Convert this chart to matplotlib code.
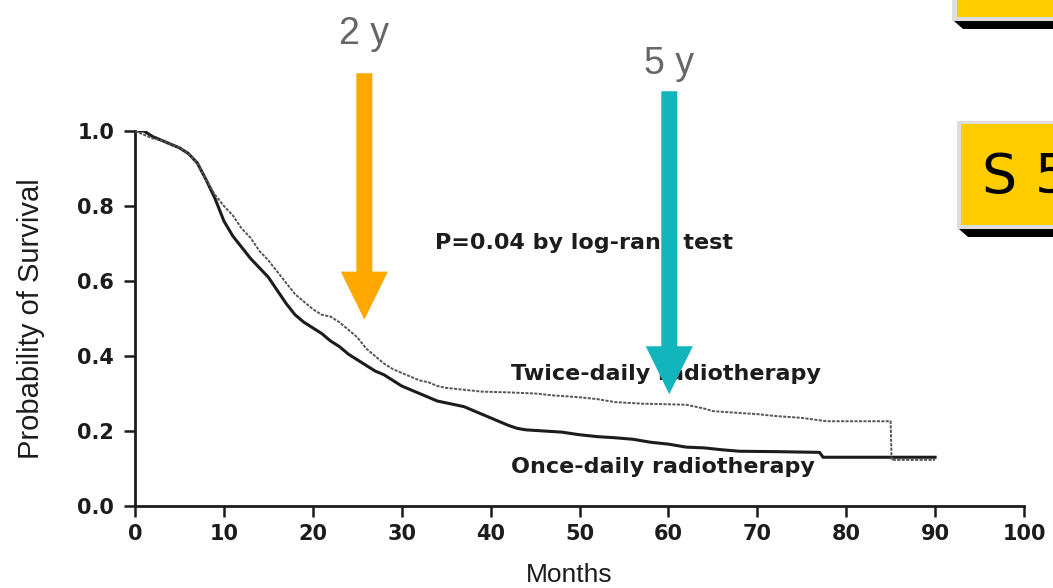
import numpy as np
import matplotlib.pyplot as plt
from matplotlib.patches import FancyArrow, Rectangle, Polygon

# Kaplan-Meier estimates read per month (months, probability of survival)
once_months = [0, 1, 2, 3, 4, 5, 6, 7, 8, 9, 10, 11, 12, 13, 14, 15, 16, 17, 18, 19,
               20, 21, 22, 23, 24, 25, 26, 27, 28, 29, 30, 31, 32, 33, 34, 35, 36, 37,
               38, 39, 40, 41, 42, 43, 44, 46, 48, 50, 52, 54, 56, 58, 60, 62, 64, 66,
               68, 72, 77, 77.4, 90]
once_surv = [1.0, 1.0, 0.985, 0.975, 0.965, 0.955, 0.94, 0.915, 0.87, 0.82, 0.76, 0.72,
             0.69, 0.66, 0.635, 0.61, 0.575, 0.54, 0.51, 0.49, 0.475, 0.46, 0.44, 0.425,
             0.405, 0.39, 0.375, 0.36, 0.35, 0.335, 0.32, 0.31, 0.30, 0.29, 0.28, 0.275,
             0.27, 0.265, 0.255, 0.245, 0.235, 0.225, 0.215, 0.207, 0.203, 0.2, 0.197,
             0.19, 0.185, 0.182, 0.178, 0.17, 0.165, 0.157, 0.155, 0.15, 0.146, 0.145,
             0.143, 0.13, 0.13]

twice_months = [0, 1, 2, 3, 4, 5, 6, 7, 8, 9, 10, 11, 12, 13, 14, 15, 16, 17, 18, 19,
                20, 21, 22, 23, 24, 25, 26, 27, 28, 29, 30, 31, 32, 33, 34, 35, 37, 39,
                42, 45, 47, 50, 52, 54, 57, 62, 64, 65, 68, 70, 72, 75, 77.8, 85, 85.1, 90]
twice_surv = [1.0, 0.99, 0.98, 0.975, 0.965, 0.955, 0.94, 0.915, 0.87, 0.83, 0.80, 0.775,
              0.74, 0.715, 0.68, 0.655, 0.625, 0.595, 0.565, 0.545, 0.525, 0.51, 0.505,
              0.49, 0.47, 0.45, 0.42, 0.40, 0.38, 0.365, 0.355, 0.345, 0.335, 0.33, 0.32,
              0.315, 0.31, 0.305, 0.303, 0.30, 0.295, 0.29, 0.285, 0.277, 0.273, 0.27,
              0.26, 0.253, 0.248, 0.245, 0.24, 0.235, 0.226, 0.226, 0.123, 0.123]

x_ticks = [0, 10, 20, 30, 40, 50, 60, 70, 80, 90, 100]
y_ticks = [0.0, 0.2, 0.4, 0.6, 0.8, 1.0]

# time points highlighted with arrows: (label, month, arrow tip, arrow top, label y, colour)
marks = [("2 y", 25.8, 0.497, 1.154, 1.26, "#FFA800"),
         ("5 y", 60.1, 0.298, 1.106, 1.178, "#12B5BB")]

W, H = 1053, 588
fig = plt.figure(figsize=(W / 100, H / 100), dpi=100)
ax = fig.add_axes([135 / W, 1 - 506 / H, (1024 - 135) / W, (506 - 131) / H])

ink = "#1c1c1c"
ax.plot(once_months, once_surv, color=ink, lw=2.2, zorder=3)
ax.plot(twice_months, twice_surv, color="#555555", lw=1.4,
        linestyle=(0, (1.6, 0.7)), zorder=3)

ax.set_xlim(0, 100)
ax.set_ylim(0, 1.0)
ax.set_xticks(x_ticks)
ax.set_yticks(y_ticks)
ax.set_yticklabels([f"{v:.1f}" for v in y_ticks])
for s in ["top", "right"]:
    ax.spines[s].set_visible(False)
for s in ["left", "bottom"]:
    ax.spines[s].set_linewidth(2)
    ax.spines[s].set_color(ink)
ax.tick_params(length=8, width=1.8, color=ink, labelcolor=ink, pad=5)
ax.tick_params(axis="y", pad=7)
for lab in ax.get_xticklabels() + ax.get_yticklabels():
    lab.set_fontfamily("DejaVu Sans")
    lab.set_fontweight("bold")
    lab.set_fontsize(15)

ax.set_xlabel("Months", fontsize=19, family="Liberation Sans", color=ink)
ax.xaxis.set_label_coords((569 - 135) / (1024 - 135), -(563 - 506) / (506 - 131))
ax.set_ylabel("Probability of Survival", fontsize=21, family="Liberation Sans", color=ink)
ax.yaxis.set_label_coords(-(135 - 45) / (1024 - 135), 0.5)

txt = dict(fontsize=16, fontweight="bold", family="DejaVu Sans", color=ink,
           va="center", zorder=2)
ax.text(33.7, 0.702, "P=0.04 by log-rank test", **txt)
ax.text(42.3, 0.351, "Twice-daily radiotherapy", **txt)
ax.text(42.3, 0.104, "Once-daily radiotherapy", **txt)

for label, mx, tip, top, ty, col in marks:
    arr = FancyArrow(mx, top, 0, tip - top, width=1.8, head_width=5.3, head_length=0.128,
                     length_includes_head=True, color=col, lw=0, clip_on=False, zorder=6)
    ax.add_patch(arr)
    ax.text(mx, ty, label, fontsize=27, family="Liberation Sans", color="#666666",
            ha="center", va="center", clip_on=False)


def fx(x):
    return x / W


def fy(y):
    return 1 - y / H


# yellow slide boxes on the right edge with drop shadows
def slide_box(x0, y0, y1, inset):
    fig.add_artist(Polygon([(fx(x0 + 2), fy(y1)), (fx(W + 5), fy(y1)), (fx(W + 5), fy(y1 + 8)),
                            (fx(x0 + 11), fy(y1 + 8))], closed=True, color="black", lw=0))
    fig.add_artist(Rectangle((fx(x0), fy(y1)), fx(W + 5 - x0), fy(y0) - fy(y1),
                             color="#DDDDDD", lw=0))
    fig.add_artist(Rectangle((fx(x0 + inset), fy(y1 - 4)), fx(W + 5 - x0), fy(y0 + 3) - fy(y1 - 4),
                             color="#FFCC00", lw=0))


slide_box(952, -20, 21, 5)
slide_box(957, 121, 229, 4)
fig.text(fx(982), fy(193), "S 5", fontsize=40, family="DejaVu Sans", color="black",
         ha="left", va="baseline")

fig.savefig("out.png", dpi=100, facecolor="white")
